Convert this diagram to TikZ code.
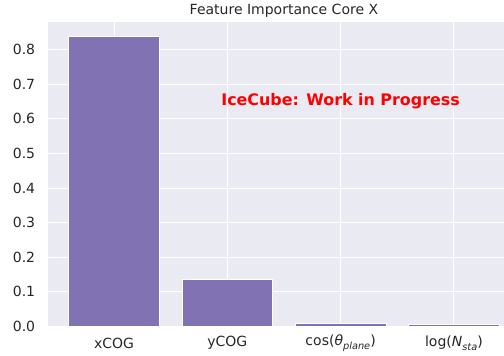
\documentclass[tikz,border=0pt]{standalone}
\usepackage{fontspec}
\setmainfont{DejaVu Sans}
\definecolor{plotbg}{HTML}{EAEAF2}
\definecolor{barcol}{HTML}{8172B3}
\definecolor{txtcol}{HTML}{262626}
\newcommand{\lowsub}[1]{\raisebox{-0.45ex}{\fontsize{9.8}{10}\selectfont\itshape #1}}

\begin{document}
\begin{tikzpicture}[x=113.3pt,y=346pt,
  tick/.style={text=txtcol,font=\fontsize{14}{16}\selectfont},
  bar/.style={fill=barcol,draw=white,line width=0.5pt}]
  \useasboundingbox (-1.0062,-0.0853) rectangle (3.4422,0.9436);
  \fill[plotbg] (-0.5825,0) rectangle (3.4422,0.881);
  \foreach \i in {1,...,8}
    \draw[white,line width=0.9pt] (-0.5825,\i/10) -- (3.4422,\i/10);
  \foreach \i in {0,...,3}
    \draw[white,line width=0.9pt] (\i,0) -- (\i,0.881);

  \foreach \i/\h in {0/0.840,1/0.136,2/0.008,3/0.006}
    \draw[bar] (\i-0.4,0) rectangle (\i+0.4,\h);

  \foreach \i in {0,...,8}
    \node[tick,anchor=east] (Y\i) at (-0.665,\i/10) {0.\i};

  \node[tick] (X0) at (0,-0.048) {xCOG};
  \node[tick] (X1) at (1,-0.048) {yCOG};
  \node[tick] (X2) at (2,-0.048) {cos(\textit{θ}\lowsub{plane})};
  \node[tick] (X3) at (3,-0.048) {log(\textit{N}\lowsub{sta})};

  \node[text=txtcol,font=\fontsize{14}{16}\selectfont] (T) at (1.5,0.912) {Feature Importance Core X};
  \node[text=red,font=\fontsize{15.9}{18}\selectfont\bfseries] (W) at (2,0.6526) {IceCube: Work in Progress};
\end{tikzpicture}
\end{document}
